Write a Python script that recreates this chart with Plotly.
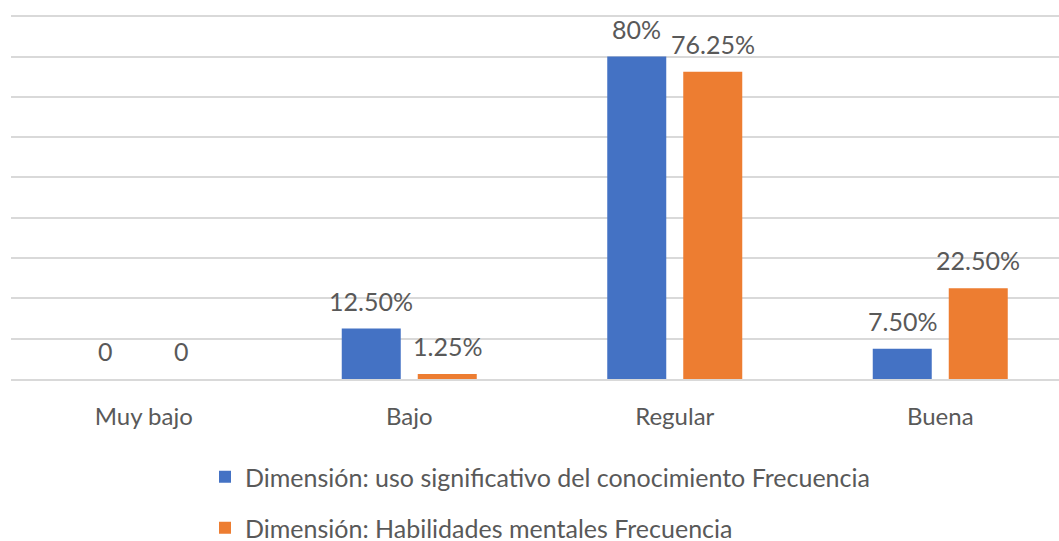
import plotly.graph_objects as go

categories = ["Muy bajo", "Bajo", "Regular", "Buena"]
uso_values = [0, 12.5, 80, 7.5]
habilidades_values = [0, 1.25, 76.25, 22.5]
uso_labels = ["0", "12.50%", "80%", "7.50%"]
habilidades_labels = ["0", "1.25%", "76.25%", "22.50%"]
series_names = [
    "Dimensión: uso significativo del conocimiento Frecuencia",
    "Dimensión: Habilidades mentales Frecuencia",
]

BLUE = "#4472C4"
ORANGE = "#ED7D31"
TEXT = "#595959"
GRID = "#D9D9D9"
FONT = "Lato"

W, H = 1059, 541
ML, MT, MB = 11, 15, 162
plot_w = W - ML
cat_px = 265.5
x_hi = -0.5 + plot_w / cat_px

bar_w = 59 / cat_px
off = 38 / cat_px

fig = go.Figure()
fig.add_trace(go.Bar(
    x=categories, y=uso_values, name=series_names[0],
    marker=dict(color=BLUE, line=dict(width=0)),
    width=bar_w, offset=-off - bar_w / 2, legend="legend",
))
fig.add_trace(go.Bar(
    x=categories, y=habilidades_values, name=series_names[1],
    marker=dict(color=ORANGE, line=dict(width=0)),
    width=bar_w, offset=off - bar_w / 2, legend="legend2",
))

# value labels above each bar
for vals, labels, shift in ((uso_values, uso_labels, -38), (habilidades_values, habilidades_labels, 38)):
    for c, v, t in zip(categories, vals, labels):
        fig.add_annotation(
            x=c, y=v, text=t, showarrow=False, xshift=shift, yshift=28,
            yanchor="middle", xanchor="center",
            font=dict(family=FONT, size=25, color=TEXT),
        )

legend_common = dict(
    orientation="v", xanchor="left", yanchor="middle",
    xref="container", yref="container",
    font=dict(family=FONT, size=25, color=TEXT),
    bgcolor="rgba(0,0,0,0)", borderwidth=0,
)

fig.update_layout(
    width=W, height=H,
    margin=dict(l=ML, r=0, t=MT, b=MB, autoexpand=False),
    paper_bgcolor="white", plot_bgcolor="white",
    barmode="overlay",
    showlegend=True,
    legend=dict(x=205 / W, y=1 - 477 / H, **legend_common),
    legend2=dict(x=205 / W, y=1 - 528 / H, **legend_common),
    xaxis=dict(
        range=[-0.5, x_hi], showgrid=False, zeroline=False,
        showline=True, linecolor=GRID, linewidth=2,
        ticks="", ticklabelstandoff=15,
        tickfont=dict(family=FONT, size=24, color=TEXT),
    ),
    yaxis=dict(
        range=[0, 90.3], tickvals=[10, 20, 30, 40, 50, 60, 70, 80, 90],
        showgrid=True, gridcolor=GRID, gridwidth=2,
        zeroline=False, showticklabels=False, ticks="",
    ),
)

fig.write_html("out.html")
